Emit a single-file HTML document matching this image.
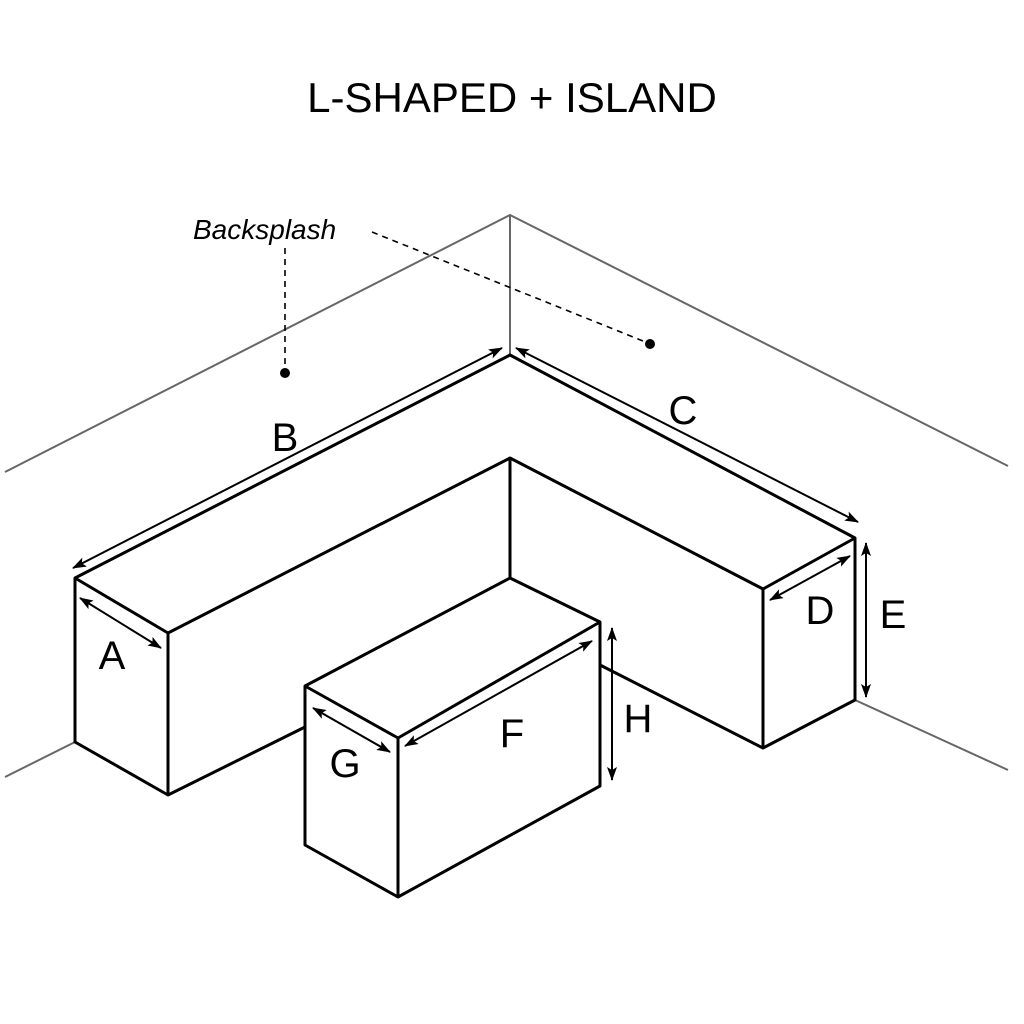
<!DOCTYPE html>
<html><head><meta charset="utf-8"><style>html,body{margin:0;padding:0;background:#fff}svg{display:block}</style></head>
<body>
<svg width="1024" height="1024" viewBox="0 0 1024 1024" xmlns="http://www.w3.org/2000/svg">
<defs>
<marker id="ah" viewBox="0 0 14 10" refX="13" refY="5" markerWidth="14" markerHeight="10" orient="auto-start-reverse" markerUnits="userSpaceOnUse"><path d="M0,0 L14,5 L0,10 L3,5 z" fill="#000"/></marker>
</defs>
<text x="512" y="112" font-family="Liberation Sans, sans-serif" font-size="42" text-anchor="middle">L-SHAPED + ISLAND</text>
<g stroke="#666" stroke-width="2" fill="none">
<polyline points="5,472 510,215 1008,466"/>
<line x1="510" y1="215" x2="510" y2="355"/>
<line x1="5" y1="777" x2="75" y2="742"/>
<line x1="855" y1="700" x2="1008" y2="770"/>
</g>
<g stroke="#000" stroke-width="3" fill="#fff" stroke-linejoin="round">
<polygon points="510,355 855,538 855,700 763,748 600,665 510,620 305,727 168,795 75,742 75,578"/>
<polyline points="75,578 168,633 510,458 763,589 855,538" fill="none"/>
<line x1="168" y1="633" x2="168" y2="795"/>
<line x1="510" y1="458" x2="510" y2="580"/>
<line x1="763" y1="589" x2="763" y2="748"/>
<polygon points="305,686 510,578 600,622 600,786 398,897 305,845"/>
<polyline points="305,686 398,738 600,622" fill="none"/>
<line x1="398" y1="738" x2="398" y2="897"/>
</g>
<g stroke="#000" stroke-width="2" marker-start="url(#ah)" marker-end="url(#ah)">
<line x1="73" y1="568" x2="502" y2="348"/>
<line x1="516" y1="348" x2="858" y2="522"/>
<line x1="80" y1="598" x2="161" y2="648"/>
<line x1="770" y1="600" x2="850" y2="556"/>
<line x1="866" y1="543" x2="866" y2="697"/>
<line x1="313" y1="708" x2="390" y2="752"/>
<line x1="405" y1="746" x2="592" y2="641"/>
<line x1="612" y1="628" x2="612" y2="780"/>
</g>
<g font-family="Liberation Sans, sans-serif" font-size="40" text-anchor="middle">
<text x="285" y="451">B</text>
<text x="683" y="424">C</text>
<text x="112" y="669">A</text>
<text x="820" y="624">D</text>
<text x="893" y="628">E</text>
<text x="512" y="747">F</text>
<text x="345" y="777">G</text>
<text x="638" y="732">H</text>
</g>
<text x="193" y="239" font-family="Liberation Sans, sans-serif" font-size="28" font-style="italic">Backsplash</text>
<g stroke="#000" stroke-width="1.6" stroke-dasharray="6,5" fill="none">
<line x1="285" y1="248" x2="285" y2="370"/>
<line x1="372" y1="232" x2="648" y2="343"/>
</g>
<circle cx="285" cy="373" r="5" fill="#000"/>
<circle cx="650" cy="344" r="5" fill="#000"/>
</svg>
</body></html>
